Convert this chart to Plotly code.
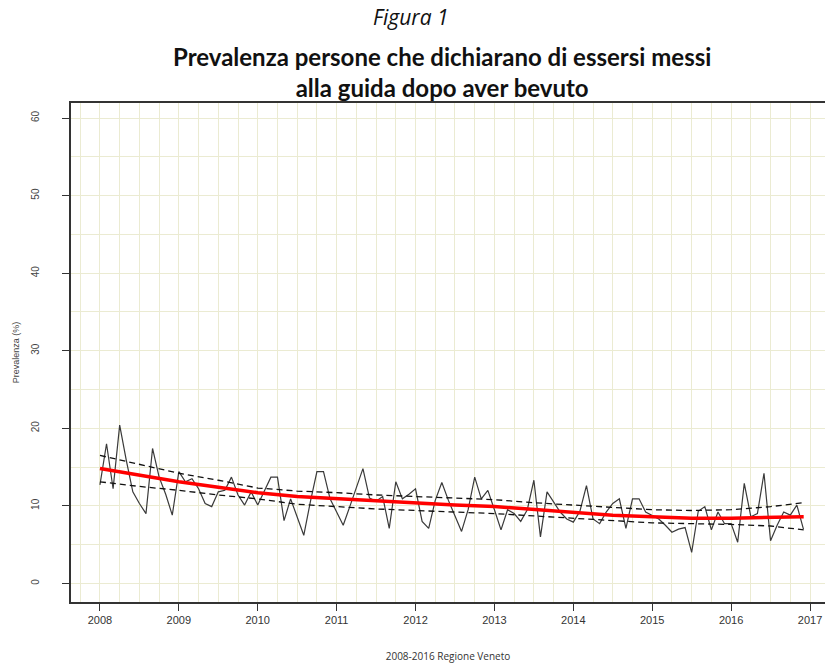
import plotly.graph_objects as go

# Monthly prevalence (%) Jan 2008 - Dec 2016
years = list(range(2008, 2017))
prev_2008 = [12.7, 18.0, 12.2, 20.4, 15.9, 11.8, 10.3, 9.0, 17.4, 13.7, 11.5, 8.8]
prev_2009 = [14.4, 13.1, 13.5, 12.2, 10.3, 9.9, 11.8, 12.0, 13.7, 11.4, 10.1, 11.8]
prev_2010 = [10.1, 12.0, 13.7, 13.7, 8.1, 10.9, 8.5, 6.2, 10.5, 14.4, 14.4, 10.9]
prev_2011 = [9.2, 7.5, 9.9, 12.3, 14.8, 11.0, 10.6, 11.2, 7.1, 13.1, 10.9, 11.5]
prev_2012 = [12.2, 8.0, 7.1, 10.7, 13.0, 10.7, 8.7, 6.7, 9.5, 13.7, 10.9, 12.0]
prev_2013 = [9.5, 6.9, 9.5, 9.0, 8.0, 9.5, 13.3, 6.0, 11.8, 10.5, 9.2, 8.3]
prev_2014 = [7.9, 9.3, 12.6, 8.3, 7.7, 9.2, 10.3, 10.9, 7.1, 10.9, 10.9, 9.2]
prev_2015 = [8.7, 8.3, 7.5, 6.6, 7.0, 7.2, 4.0, 9.3, 9.9, 6.9, 9.2, 7.7]
prev_2016 = [7.7, 5.3, 12.9, 8.6, 9.0, 14.2, 5.5, 7.5, 9.2, 8.8, 10.1, 7.0]

monthly = (prev_2008 + prev_2009 + prev_2010 + prev_2011 + prev_2012 +
           prev_2013 + prev_2014 + prev_2015 + prev_2016)
months_x = [y + m / 12 for y in years for m in range(12)]

# Trend and confidence band (half-year knots)
trend_x = [2008.0, 2008.5, 2009.0, 2009.5, 2010.0, 2010.5, 2011.0, 2011.5, 2012.0,
           2012.5, 2013.0, 2013.5, 2014.0, 2014.5, 2015.0, 2015.5, 2016.0, 2016.5, 2016.92]
trend = [14.8, 13.9, 13.1, 12.4, 11.7, 11.2, 10.9, 10.6, 10.4,
         10.1, 9.9, 9.5, 9.1, 8.8, 8.6, 8.4, 8.4, 8.5, 8.6]
upper = [16.5, 15.3, 14.2, 13.3, 12.3, 11.9, 11.7, 11.4, 11.2,
         11.0, 10.8, 10.4, 10.1, 9.8, 9.5, 9.4, 9.5, 9.9, 10.4]
lower = [13.1, 12.5, 12.0, 11.4, 10.9, 10.2, 9.9, 9.6, 9.4,
         9.2, 9.0, 8.7, 8.4, 8.1, 7.8, 7.7, 7.6, 7.4, 6.9]

x_ticks = list(range(2008, 2018))
y_ticks = [0, 10, 20, 30, 40, 50, 60]

W, H = 825, 665
ML, MR, MT, MB = 71, 0, 103, 63

fig = go.Figure()
fig.add_trace(go.Scatter(x=months_x, y=monthly, mode="lines",
                         line=dict(color="#3a3a3a", width=1.2), showlegend=False))
fig.add_trace(go.Scatter(x=trend_x, y=upper, mode="lines",
                         line=dict(color="#111111", width=1.3, dash="6px,4px"), showlegend=False))
fig.add_trace(go.Scatter(x=trend_x, y=lower, mode="lines",
                         line=dict(color="#111111", width=1.3, dash="6px,4px"), showlegend=False))
fig.add_trace(go.Scatter(x=trend_x, y=trend, mode="lines",
                         line=dict(color="#ff0000", width=3.5), showlegend=False))

grid_col = "#ebebd2"
fig.update_xaxes(
    range=[2007.633, 2017.19], tickvals=x_ticks, ticktext=[str(t) for t in x_ticks],
    automargin=False,
    showgrid=True, gridcolor=grid_col, gridwidth=1,
    minor=dict(dtick=0.25, tick0=2008, showgrid=True, gridcolor=grid_col, gridwidth=1, ticks=""),
    showline=True, linecolor="#333333", linewidth=1.5, mirror=True,
    ticks="outside", ticklen=7, tickcolor="#333333", zeroline=False,
    tickfont=dict(family="Liberation Sans, Arial", size=11, color="#333333"),
    title=dict(text="2008-2016 Regione Veneto", standoff=28,
               font=dict(family="Open Sans", size=10, color="#333333")),
)
fig.update_yaxes(
    range=[-2.4, 61.94], tickvals=y_ticks, ticktext=[str(t) for t in y_ticks],
    automargin=False,
    showgrid=True, gridcolor=grid_col, gridwidth=1,
    minor=dict(dtick=5, tick0=0, showgrid=True, gridcolor=grid_col, gridwidth=1, ticks=""),
    showline=True, linecolor="#333333", linewidth=1.5, mirror=False,
    ticks="outside", ticklen=7, tickcolor="#333333", zeroline=False,
    tickangle=-90, ticklabelstandoff=19,
    tickfont=dict(family="Liberation Sans, Arial", size=10, color="#444444"),
    title=dict(text="Prevalenza (%)", standoff=9,
               font=dict(family="Liberation Sans, Arial", size=9, color="#444444")),
)

plot_h = H - MT - MB
plot_w = W - ML - MR
def px_to_paper_x(px):
    return (px - ML) / plot_w
def px_to_paper_y(py):
    return (H - MB - py) / plot_h

fig.update_layout(
    width=W, height=H,
    margin=dict(l=ML, r=MR, t=MT, b=MB),
    paper_bgcolor="white", plot_bgcolor="white",
    annotations=[
        dict(text="<i>Figura 1</i>", x=px_to_paper_x(411), y=px_to_paper_y(17),
             xref="paper", yref="paper", yanchor="middle", showarrow=False,
             font=dict(family="Open Sans", size=21, color="#111111")),
        dict(text="<b>Prevalenza persone che dichiarano di essersi messi<br>alla guida dopo aver bevuto</b>",
             x=px_to_paper_x(442), y=px_to_paper_y(72), xref="paper", yref="paper",
             yanchor="middle", align="center", showarrow=False,
             font=dict(family="Lato", size=24, color="#111111")),
    ],
)
fig.write_html("out.html", config={"displayModeBar": False},
               post_script="document.body.style.margin='0px';document.body.style.overflow='hidden';")
